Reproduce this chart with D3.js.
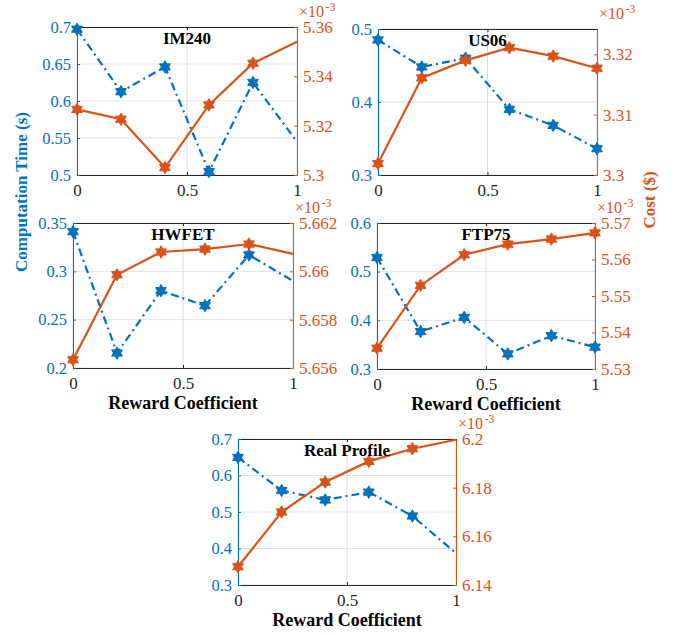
<!DOCTYPE html>
<html>
<head>
<meta charset="utf-8">
<script src="https://cdn.jsdelivr.net/npm/d3@7"></script>
<style>
  html, body { margin: 0; padding: 0; background: #fff; }
  svg, svg text { font-family: "Liberation Serif", "Times New Roman", serif; }
</style>
</head>
<body>
<svg id="chart" width="679" height="634"></svg>
<script>
// Reward coefficient sweep shared by every drive cycle
const coeffs = [0, 0.2, 0.4, 0.6, 0.8, 1];
const cycleNames = ["IM240", "US06", "HWFET", "FTP75", "Real Profile"];

// Computation time (s) per cycle
const timeIM240 = [0.697, 0.6126, 0.646, 0.5045, 0.625, 0.545];
const timeUS06  = [0.485, 0.448, 0.460, 0.390, 0.368, 0.336];
const timeHWFET = [0.341, 0.2155, 0.280, 0.2645, 0.317, 0.290];
const timeFTP75 = [0.529, 0.377, 0.406, 0.331, 0.3685, 0.345];
const timeReal  = [0.6495, 0.559, 0.533, 0.5545, 0.489, 0.387];

// Cost ($) per cycle
const costIM240 = [5.3266e-3, 5.3226e-3, 5.3030e-3, 5.3284e-3, 5.3453e-3, 5.3540e-3];
const costUS06  = [3.3019e-3, 3.3161e-3, 3.3190e-3, 3.3211e-3, 3.3197e-3, 3.3177e-3];
const costHWFET = [5.65634e-3, 5.65986e-3, 5.66080e-3, 5.66092e-3, 5.66113e-3, 5.66072e-3];
const costFTP75 = [5.5357e-3, 5.5529e-3, 5.5613e-3, 5.5642e-3, 5.5656e-3, 5.5673e-3];
const costReal  = [6.1475e-3, 6.1700e-3, 6.1823e-3, 6.1908e-3, 6.1960e-3, 6.1997e-3];

// Tick values for each axis
const xTicks = [0, 0.5, 1];
const timeTicksIM240 = [0.5, 0.55, 0.6, 0.65, 0.7];
const timeTicksUS06  = [0.3, 0.4, 0.5];
const timeTicksHWFET = [0.2, 0.25, 0.3, 0.35];
const timeTicksFTP75 = [0.3, 0.4, 0.5, 0.6];
const timeTicksReal  = [0.3, 0.4, 0.5, 0.6, 0.7];
const costTicksIM240 = [5.30e-3, 5.32e-3, 5.34e-3, 5.36e-3];
const costTicksUS06  = [3.30e-3, 3.31e-3, 3.32e-3];
const costTicksHWFET = [5.656e-3, 5.658e-3, 5.660e-3, 5.662e-3];
const costTicksFTP75 = [5.53e-3, 5.54e-3, 5.55e-3, 5.56e-3, 5.57e-3];
const costTicksReal  = [6.14e-3, 6.16e-3, 6.18e-3, 6.20e-3];

// Axis limits
const timeLimits = [[0.5, 0.7], [0.3, 0.5], [0.2, 0.35], [0.3, 0.6], [0.3, 0.7]];
const costLimits = [[5.30e-3, 5.36e-3], [3.30e-3, 3.3242e-3], [5.656e-3, 5.662e-3], [5.53e-3, 5.57e-3], [6.14e-3, 6.20e-3]];

const timeSeries = [timeIM240, timeUS06, timeHWFET, timeFTP75, timeReal];
const costSeries = [costIM240, costUS06, costHWFET, costFTP75, costReal];
const timeTickSets = [timeTicksIM240, timeTicksUS06, timeTicksHWFET, timeTicksFTP75, timeTicksReal];
const costTickSets = [costTicksIM240, costTicksUS06, costTicksHWFET, costTicksFTP75, costTicksReal];

// Panel frames (pixels) and per-panel display options
const frames = [
  { l: 77,  r: 297, t: 27,  b: 175, xlabel: false, endMarker: false },
  { l: 378, r: 597, t: 29,  b: 175, xlabel: false, endMarker: true  },
  { l: 73,  r: 293, t: 223, b: 368, xlabel: true,  endMarker: false },
  { l: 377, r: 595, t: 223, b: 369, xlabel: true,  endMarker: true  },
  { l: 238, r: 456, t: 439, b: 585, xlabel: true,  endMarker: false }
];

const BLUE = "#0072BD";
const RED = "#D95319";
const INK = "#262626";
const SERIF = "'Liberation Serif', 'Times New Roman', serif";

const svg = d3.select("#chart");

// six-pointed star (hexagram) marker path centred at the origin
function hexagram(R) {
  const r = R / Math.sqrt(3);
  const pts = [];
  for (let i = 0; i < 12; i++) {
    const a = -Math.PI / 2 + i * Math.PI / 6;
    const rad = i % 2 === 0 ? R : r;
    pts.push([rad * Math.cos(a), rad * Math.sin(a)]);
  }
  return "M" + pts.map(p => p[0].toFixed(2) + "," + p[1].toFixed(2)).join("L") + "Z";
}
const starPath = hexagram(6.2);

const fmtTime = v => String(+v.toFixed(3));
const fmtCost = v => String(+(v * 1e3).toFixed(4));

function styleAxis(sel, color, size) {
  sel.attr("font-family", null).attr("font-size", null);
  sel.select(".domain").attr("stroke", color);
  sel.selectAll(".tick line").attr("stroke", color);
  sel.selectAll(".tick text").attr("fill", color)
    .style("font-family", SERIF).style("font-size", size + "px");
}

frames.forEach((f, i) => {
  const g = svg.append("g");
  const x = d3.scaleLinear().domain([0, 1]).range([f.l, f.r]);
  const yL = d3.scaleLinear().domain(timeLimits[i]).range([f.b, f.t]);
  const yR = d3.scaleLinear().domain(costLimits[i]).range([f.b, f.t]);

  // grid
  g.append("g").selectAll("line").data(timeTickSets[i]).join("line")
    .attr("x1", f.l).attr("x2", f.r)
    .attr("y1", d => yL(d)).attr("y2", d => yL(d))
    .attr("stroke", "#dde3ea").attr("stroke-width", 1);
  g.append("g").selectAll("line").data(xTicks).join("line")
    .attr("x1", d => x(d)).attr("x2", d => x(d))
    .attr("y1", f.t).attr("y2", f.b)
    .attr("stroke", "#dcdcdc").attr("stroke-width", 1);

  // bottom axis
  const xAxis = d3.axisBottom(x).tickValues(xTicks).tickSizeInner(-3).tickSizeOuter(0)
    .tickPadding(9).tickFormat(d => String(d));
  g.append("g").attr("transform", `translate(0,${f.b})`).call(xAxis)
    .call(sel => styleAxis(sel, INK, 17));

  // top edge with ticks
  const xTop = d3.axisTop(x).tickValues(xTicks).tickSizeInner(-3).tickSizeOuter(0).tickFormat("");
  g.append("g").attr("transform", `translate(0,${f.t})`).call(xTop)
    .call(sel => styleAxis(sel, INK, 17));

  // left axis: computation time
  const leftAxis = d3.axisLeft(yL).tickValues(timeTickSets[i]).tickSizeInner(-3).tickSizeOuter(0)
    .tickPadding(6).tickFormat(fmtTime);
  g.append("g").attr("transform", `translate(${f.l},0)`).call(leftAxis)
    .call(sel => styleAxis(sel, BLUE, 16.5));

  // right axis: cost, shown in units of 10^-3
  const rightAxis = d3.axisRight(yR).tickValues(costTickSets[i]).tickSizeInner(-3).tickSizeOuter(0)
    .tickPadding(6).tickFormat(fmtCost);
  g.append("g").attr("transform", `translate(${f.r},0)`).call(rightAxis)
    .call(sel => styleAxis(sel, RED, 17));

  // exponent note above the right axis: "×10" followed by a raised "-3"
  const base = g.append("text").attr("x", f.r + 2).attr("y", f.t - 10)
    .attr("fill", RED).style("font-size", "16px").text("\u00d710");
  const baseW = base.node().getComputedTextLength();
  g.append("text").attr("x", f.r + 2 + baseW + 1.5).attr("y", f.t - 16)
    .attr("fill", RED).style("font-size", "12px").text("-3");

  // computation time: dash-dot line with stars
  const lineL = d3.line().x((d, k) => x(coeffs[k])).y(d => yL(d));
  g.append("path").datum(timeSeries[i]).attr("d", lineL)
    .attr("fill", "none").attr("stroke", BLUE).attr("stroke-width", 2.2)
    .attr("stroke-dasharray", "8,4,2,4");
  const nMarks = f.endMarker ? coeffs.length : coeffs.length - 1;
  g.append("g").selectAll("path").data(timeSeries[i].slice(0, nMarks)).join("path")
    .attr("d", starPath)
    .attr("transform", (d, k) => `translate(${x(coeffs[k])},${yL(d)})`)
    .attr("fill", BLUE).attr("stroke", BLUE).attr("stroke-width", 1);

  // cost: solid line with stars
  const lineR = d3.line().x((d, k) => x(coeffs[k])).y(d => yR(d));
  g.append("path").datum(costSeries[i]).attr("d", lineR)
    .attr("fill", "none").attr("stroke", RED).attr("stroke-width", 2.2);
  g.append("g").selectAll("path").data(costSeries[i].slice(0, nMarks)).join("path")
    .attr("d", starPath)
    .attr("transform", (d, k) => `translate(${x(coeffs[k])},${yR(d)})`)
    .attr("fill", RED).attr("stroke", RED).attr("stroke-width", 1);

  // cycle title
  g.append("text").attr("x", (f.l + f.r) / 2).attr("y", f.t + 17)
    .attr("text-anchor", "middle").attr("font-weight", "bold").style("font-size", "17px")
    .attr("fill", "#000").text(cycleNames[i]);

  if (f.xlabel) {
    g.append("text").attr("x", (f.l + f.r) / 2).attr("y", f.b + 41)
      .attr("text-anchor", "middle").attr("font-weight", "bold").style("font-size", "18px")
      .attr("fill", "#000").text("Reward Coefficient");
  }
});

// shared axis titles
svg.append("text").attr("transform", "translate(27,192) rotate(-90)")
  .attr("text-anchor", "middle").attr("font-weight", "bold").style("font-size", "17px")
  .attr("fill", BLUE).text("Computation Time (s)");
svg.append("text").attr("transform", "translate(655,200) rotate(-90)")
  .attr("text-anchor", "middle").attr("font-weight", "bold").style("font-size", "17px")
  .attr("fill", RED).text("Cost ($)");
</script>
</body>
</html>
